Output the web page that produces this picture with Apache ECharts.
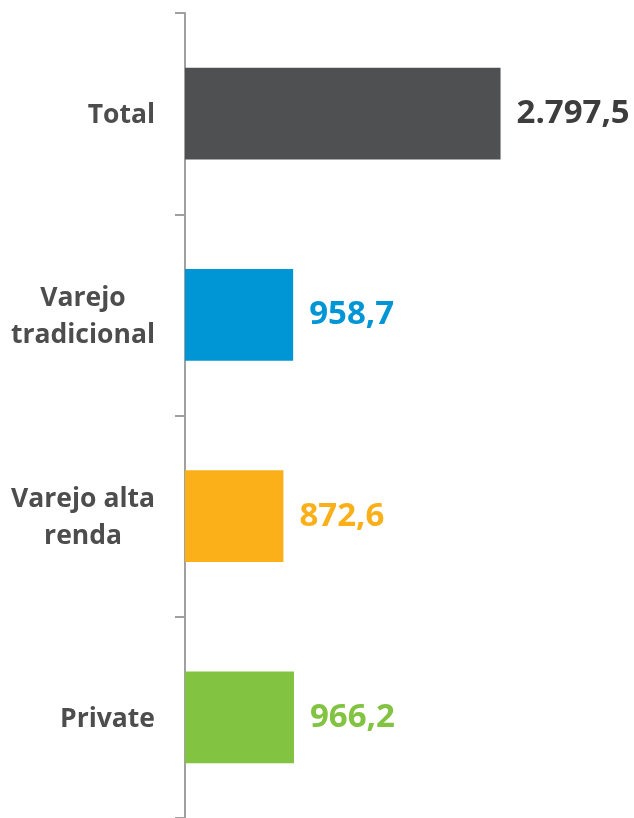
<!DOCTYPE html>
<html>
<head>
<meta charset="utf-8">
<script src="https://cdn.jsdelivr.net/npm/echarts@6/dist/echarts.min.js"></script>
<style>
  html, body { margin: 0; padding: 0; background: #fff; }
  #chart { width: 634px; height: 818px; }
</style>
</head>
<body>
<div id="chart"></div>
<script>
// categorias (de cima para baixo)
const categories = ['Total', 'Varejo\ntradicional', 'Varejo alta\nrenda', 'Private']
const values = [2797.5, 958.7, 872.6, 966.2]
const barColors = ['#4f5052', '#0096d6', '#fbb01a', '#82c341']
const labelColors = ['#3d3d3d', '#0096d6', '#fbb01a', '#82c341']

// formato pt-BR: 2.797,5
const fmt = (v) => {
  const parts = v.toFixed(1).split('.')
  parts[0] = parts[0].replace(/\B(?=(\d{3})+(?!\d))/g, '.')
  return parts.join(',')
}

const chart = echarts.init(document.getElementById('chart'))

chart.setOption({
  animation: false,
  grid: {
    left: 185,
    top: 13,
    height: 808,
    width: 394.8
  },
  xAxis: {
    type: 'value',
    min: 0,
    max: 3500,
    show: false
  },
  yAxis: {
    type: 'category',
    inverse: true,
    data: categories,
    axisLine: {
      lineStyle: { color: '#a0a0a0', width: 2 }
    },
    axisTick: {
      show: true,
      interval: 0,
      length: 10,
      lineStyle: { color: '#a0a0a0', width: 2 }
    },
    axisLabel: {
      interval: 0,
      margin: 30,
      align: 'right',
      padding: [4, 0, 0, 0],
      // linhas centralizadas entre si
      formatter: (v) => v.split('\n').map(s => '{c|' + s + '}').join('\n'),
      rich: {
        c: {
          align: 'center',
          fontFamily: 'Open Sans',
          fontWeight: 'bold',
          fontSize: 26.5,
          lineHeight: 37,
          color: '#4d4d4d'
        }
      }
    }
  },
  series: [{
    type: 'bar',
    barCategoryGap: '54.5%',
    data: values.map((v, i) => ({
      value: v,
      itemStyle: { color: barColors[i] },
      label: { color: labelColors[i] }
    })),
    label: {
      show: true,
      position: 'right',
      distance: 16,
      padding: [4, 0, 0, 0],
      fontFamily: 'Open Sans',
      fontWeight: 'bold',
      fontSize: 33,
      formatter: (p) => fmt(p.value)
    }
  }]
})
</script>
</body>
</html>
